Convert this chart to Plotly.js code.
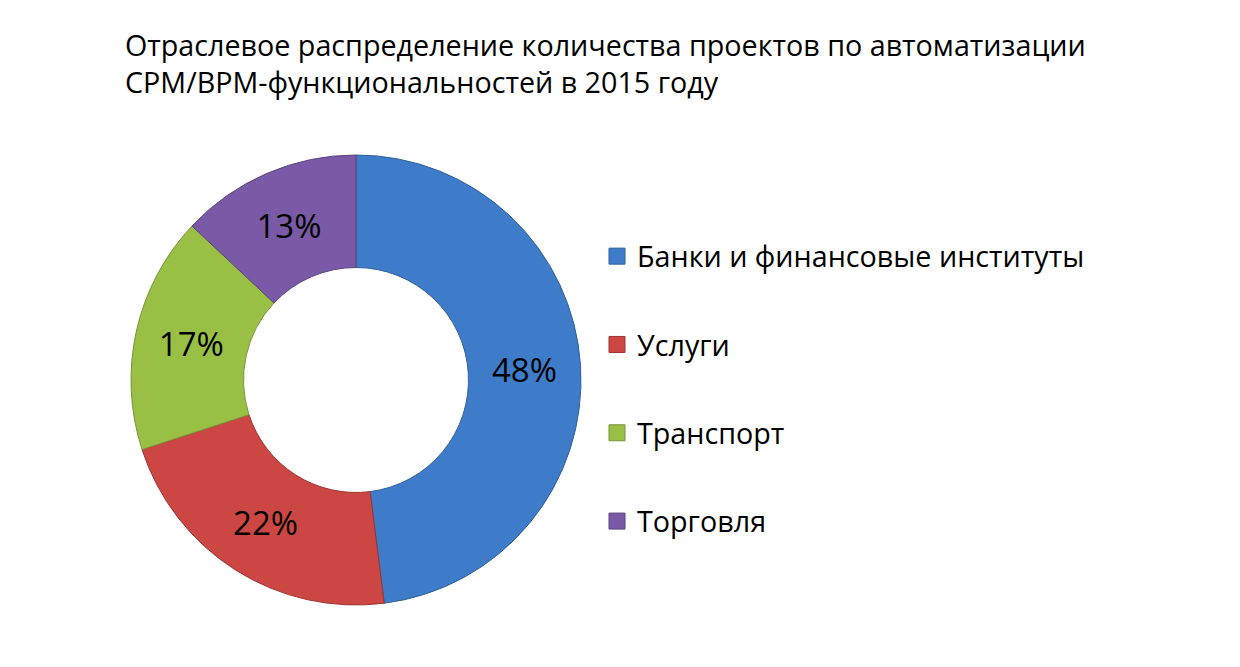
<!DOCTYPE html>
<html>
<head>
<meta charset="utf-8">
<script src="https://cdn.plot.ly/plotly-3.0.1.min.js"></script>
<style>html,body{margin:0;padding:0;background:#fff;}#chart{width:1240px;height:667px;}</style>
</head>
<body>
<div id="chart"></div>
<script>
const categories = ["Банки и финансовые институты", "Услуги", "Транспорт", "Торговля"];
const shares = [48, 22, 17, 13];
const sliceColors = ["#3E7CC9", "#CC4643", "#99BF45", "#7A5AA6"];
const edgeColors = ["#2F5F9C", "#9E3431", "#76943A", "#5C437E"];
const titleText = "Отраслевое распределение количества проектов по автоматизации<br>СРМ/ВРМ-функциональностей в 2015 году";

const FONT = "Open Sans, Noto Sans, sans-serif";

const traces = [{
  type: "pie",
  labels: categories,
  values: shares,
  sort: false,
  direction: "clockwise",
  rotation: 0,
  hole: 0.5,
  textinfo: "percent",
  texttemplate: "%{percent:.0%}",
  textposition: "inside",
  insidetextorientation: "horizontal",
  textfont: {family: FONT, size: 33, color: "#000000"},
  marker: {colors: sliceColors, line: {color: edgeColors, width: 1}},
  domain: {x: [131/1240, 581/1240], y: [1 - 605/667, 1 - 155/667]},
  showlegend: false,
  hoverinfo: "label+percent"
}];

categories.forEach((c, i) => {
  traces.push({
    type: "scatter",
    x: [null], y: [null],
    mode: "markers",
    name: c,
    legendgroup: "g" + i,
    marker: {symbol: "square", size: 19, color: sliceColors[i], line: {color: edgeColors[i], width: 1}},
    showlegend: true,
    hoverinfo: "skip"
  });
});

const layout = {
  width: 1240,
  height: 667,
  margin: {l: 0, r: 0, t: 0, b: 0},
  paper_bgcolor: "#ffffff",
  plot_bgcolor: "#ffffff",
  title: {
    text: titleText,
    font: {family: FONT, size: 28.7, color: "#000000"},
    x: 125/1240, xref: "paper", xanchor: "left",
    y: 1 - 56/667, yref: "container", yanchor: "top"
  },
  xaxis: {visible: false, domain: [0.9, 1]},
  yaxis: {visible: false, domain: [0.9, 1]},
  showlegend: true,
  legend: {
    x: 597/1240, xanchor: "left",
    y: 1 - 231/667, yanchor: "top",
    font: {family: FONT, size: 28.7, color: "#000000"},
    tracegroupgap: 48,
    itemclick: false,
    bgcolor: "rgba(0,0,0,0)"
  }
};

Plotly.newPlot("chart", traces, layout, {displayModeBar: false, staticPlot: true});
</script>
</body>
</html>
